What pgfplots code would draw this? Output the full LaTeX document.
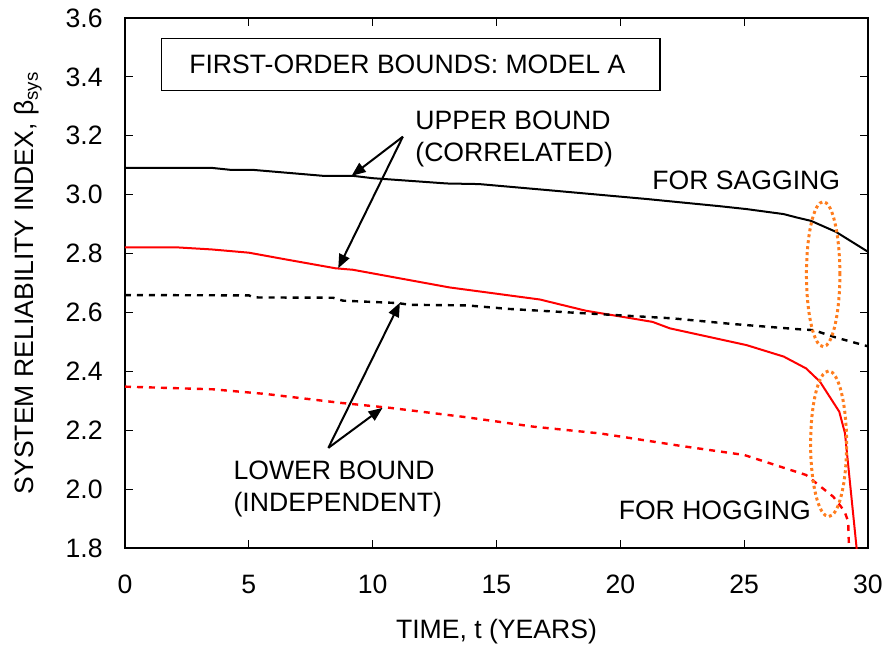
\documentclass[border=0pt]{standalone}
\usepackage{fontspec}
\setmainfont{Liberation Sans}
\usepackage{graphicx}
\usepackage{pgfplots}
\pgfplotsset{compat=1.18}
\usetikzlibrary{arrows.meta}
\definecolor{bndred}{RGB}{255,0,0}
\definecolor{hiorange}{RGB}{255,125,30}

% Upper bound, sagging (correlated)
\pgfplotstableread{
t beta
0 3.091
3.5 3.091
4.3 3.084
5.2 3.084
8.0 3.064
9.2 3.064
10.0 3.056
12.0 3.044
13.0 3.038
14.3 3.036
17.0 3.016
21.1 2.985
24.0 2.961
25.1 2.951
26.6 2.934
27.1 2.923
27.7 2.911
28.7 2.874
30.0 2.806
}\upsag
% Upper bound, hogging (correlated)
\pgfplotstableread{
t beta
0 2.821
2.1 2.821
3.5 2.814
5.0 2.803
6.5 2.780
8.5 2.750
9.2 2.745
13.1 2.685
16.75 2.644
18.6 2.606
21.3 2.568
22.0 2.546
25.1 2.489
26.6 2.450
27.5 2.410
28.06 2.365
28.84 2.263
29.07 2.190
29.6 1.750
}\uphog
% Lower bound, sagging (independent)
\pgfplotstableread{
t beta
0 2.659
5.0 2.658
5.2 2.651
8.4 2.650
8.8 2.640
11.0 2.632
11.5 2.626
13.8 2.624
15.5 2.612
19.2 2.594
22.1 2.580
24.5 2.561
27.2 2.543
27.8 2.540
28.7 2.515
30.0 2.485
}\losag
% Lower bound, hogging (independent)
\pgfplotstableread{
t beta
0 2.348
3.55 2.339
5.7 2.323
8.7 2.293
10.7 2.276
13.8 2.244
16.5 2.212
19.2 2.189
22.5 2.146
25.0 2.116
27.5 2.048
28.6 1.974
29.05 1.925
29.2 1.890
29.25 1.750
}\lohog

\begin{document}
\begin{tikzpicture}[font=\fontsize{13.3}{16}\selectfont]
\begin{axis}[
  scale only axis,
  width=371.5pt, height=265pt,
  xmin=0, xmax=30, ymin=1.8, ymax=3.6,
  xtick={0,5,10,15,20,25,30},
  ytick={1.8,2.0,2.2,2.4,2.6,2.8,3.0,3.2,3.4,3.6},
  tick align=inside,
  major tick length=4pt,
  axis line style={line width=1pt},
  every tick/.style={line width=0.6pt, black},
  /pgf/number format/assume math mode=true,
  yticklabel style={/pgf/number format/fixed, /pgf/number format/fixed zerofill, /pgf/number format/precision=1,
    anchor=east, inner sep=0pt, xshift=-11pt},
  xticklabel style={anchor=north, inner sep=0pt, yshift=-13.5pt},
  xlabel={TIME, t (YEARS)},
  ylabel={SYSTEM RELIABILITY INDEX, β\textsubscript{sys}},
  every axis x label/.style={at={(axis description cs:0.5,-0.1585)}, anchor=center},
  every axis y label/.style={at={(axis description cs:-0.1305,0.5)}, rotate=90, anchor=center},
]
\addplot[black, line width=1pt] table[x=t, y=beta] {\upsag};
\addplot[bndred, line width=1pt] table[x=t, y=beta] {\uphog};
\addplot[black, line width=1.2pt, dash pattern=on 3pt off 3pt] table[x=t, y=beta] {\losag};
\addplot[bndred, line width=1.2pt, dash pattern=on 3pt off 3pt] table[x=t, y=beta] {\lohog};

% title box
\draw[line width=0.6pt] (axis cs:1.48,3.531) rectangle (axis cs:21.6,3.353);
\node[anchor=base, inner sep=0pt] at (axis cs:11.40,3.410) {FIRST-ORDER BOUNDS: MODEL A};

% annotations
\node[anchor=base west, inner sep=0pt] at (axis cs:11.71,3.222) {UPPER BOUND};
\node[anchor=base west, inner sep=0pt] at (axis cs:11.71,3.113) {(CORRELATED)};
\node[anchor=base west, inner sep=0pt] at (axis cs:21.28,3.018) {FOR SAGGING};
\node[anchor=base west, inner sep=0pt] at (axis cs:4.37,2.033) {LOWER BOUND};
\node[anchor=base west, inner sep=0pt] at (axis cs:4.37,1.925) {(INDEPENDENT)};
\node[anchor=base west, inner sep=0pt] at (axis cs:19.92,1.897) {FOR HOGGING};

\draw[line width=1pt, -{Triangle[length=7pt,width=5.5pt]}] (axis cs:11.22,3.197) -- (axis cs:9.15,3.064);
\draw[line width=1pt, -{Triangle[length=7pt,width=5.5pt]}] (axis cs:11.22,3.197) -- (axis cs:8.61,2.750);
\draw[line width=1pt, -{Triangle[length=7pt,width=5.5pt]}] (axis cs:8.21,2.140) -- (axis cs:11.10,2.633);
\draw[line width=1pt, -{Triangle[length=7pt,width=5.5pt]}] (axis cs:8.21,2.140) -- (axis cs:10.40,2.276);

% highlighted regions near the end of service life
\draw[hiorange, line width=1.5pt, dash pattern=on 1.5pt off 1.5pt] (axis cs:28.19,2.730) ellipse [x radius=8.35pt, y radius=36.25pt];
\draw[hiorange, line width=1.5pt, dash pattern=on 1.5pt off 1.5pt] (axis cs:28.41,2.154) ellipse [x radius=9pt, y radius=36.4pt];
\end{axis}
\pgfresetboundingbox
\path (-62.5pt,-51pt) rectangle (382.5pt,274pt);
\end{tikzpicture}
\end{document}
